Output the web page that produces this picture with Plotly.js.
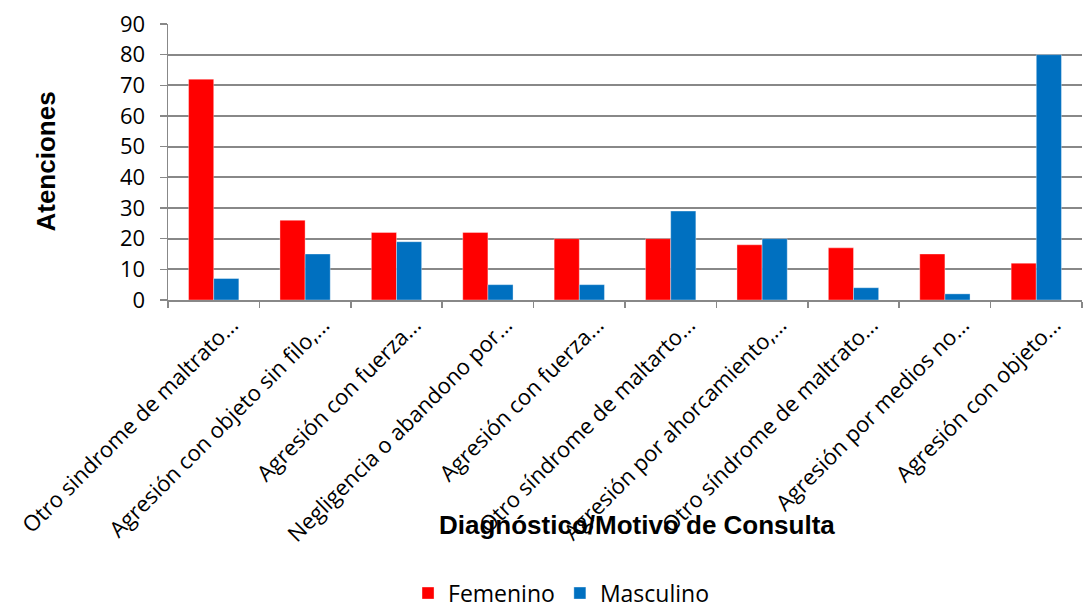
<!DOCTYPE html>
<html>
<head>
<meta charset="utf-8">
<script src="https://cdn.plot.ly/plotly-3.0.1.min.js"></script>
<style>html,body{margin:0;padding:0;background:#fff;}#chart{width:1089px;height:608px;}</style>
</head>
<body>
<div id="chart"></div>
<script>
const categories = [
  "Otro sindrome de maltrato...",
  "Agresión con objeto sin filo,...",
  "Agresión con fuerza...",
  "Negligencia o abandono por...",
  "Agresión con fuerza...",
  "Otro síndrome de maltarto...",
  "Agresión por ahorcamiento,...",
  "Otro síndrome de maltrato...",
  "Agresión por medios no...",
  "Agresión con objeto..."
];
const femenino = [72, 26, 22, 22, 20, 20, 18, 17, 15, 12];
const masculino = [7, 15, 19, 5, 5, 29, 20, 4, 2, 80];
const yTicks = [0, 10, 20, 30, 40, 50, 60, 70, 80, 90];

// unique category keys so duplicate labels stay separate
const keys = categories.map((c, i) => "c" + i);

const data = [
  {type: "bar", name: "Femenino", x: keys, y: femenino,
   marker: {color: "#FF0000", line: {color: "rgba(255,255,255,0.35)", width: 1}}},
  {type: "bar", name: "Masculino", x: keys, y: masculino,
   marker: {color: "#0070C0", line: {color: "rgba(255,255,255,0.35)", width: 1}}}
];

const layout = {
  width: 1089, height: 608,
  margin: {l: 168, r: 7, t: 24, b: 308, autoexpand: false},
  paper_bgcolor: "#fff", plot_bgcolor: "#fff",
  barmode: "group", bargap: 0.45, bargroupgap: 0,
  showlegend: true,
  legend: {orientation: "h", x: 0.43, xanchor: "center", y: -1.062, yanchor: "middle",
           font: {family: "Open Sans", size: 23, color: "#000"}, itemwidth: 30},
  xaxis: {
    type: "category", tickvals: keys, ticktext: categories,
    tickangle: -45, tickfont: {family: "Open Sans", size: 22, color: "#000"},
    ticklabelshift: 18, ticklabelstandoff: 2,
    showline: true, linecolor: "#888", linewidth: 1.5,
    ticks: "outside", tickson: "boundaries", ticklen: 6, tickcolor: "#888", tickwidth: 1.5,
    showgrid: false, automargin: false
  },
  yaxis: {
    range: [0, 90], tickvals: yTicks, ticktext: yTicks.map(String),
    tickfont: {family: "Open Sans", size: 22, color: "#000"},
    ticklabelstandoff: 10,
    showline: true, linecolor: "#888", linewidth: 1.5,
    ticks: "outside", ticklen: 7, tickcolor: "#888", tickwidth: 1.5,
    showgrid: true, gridcolor: "#888", gridwidth: 1.8, zeroline: false, automargin: false
  },
  annotations: [
    {text: "<b>Diagnóstico/Motivo de Consulta</b>", xref: "paper", yref: "paper",
     x: 0.513, y: -0.815, xanchor: "center", yanchor: "middle", showarrow: false,
     font: {family: "Liberation Sans, Arial", size: 26, color: "#000"}},
    {text: "<b>Atenciones</b>", xref: "paper", yref: "paper",
     x: -0.134, y: 0.5, xanchor: "center", yanchor: "middle", textangle: -90, showarrow: false,
     font: {family: "Liberation Sans, Arial", size: 26, color: "#000"}}
  ]
};

Plotly.newPlot("chart", data, layout, {displayModeBar: false, staticPlot: true});
</script>
</body>
</html>
